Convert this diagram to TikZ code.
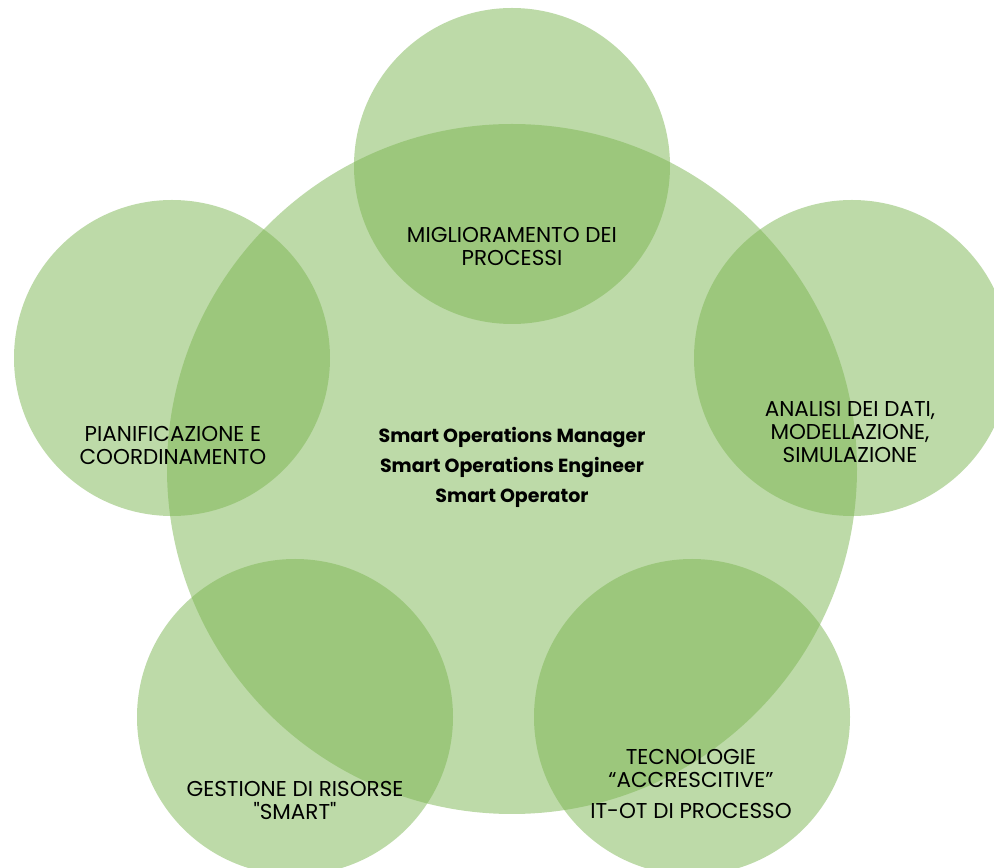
\documentclass[tikz,border=0pt]{standalone}
\usepackage{fontspec}
\setmainfont{Poppins}
\definecolor{ringgreen}{RGB}{123,181,81}
\begin{document}
\begin{tikzpicture}[x=1pt,y=1pt,
  bubble/.style={circle,draw=none,fill=ringgreen,fill opacity=0.5,inner sep=0pt},
  small/.style={bubble,minimum size=316pt},
  big/.style={bubble,minimum size=690pt},
  lbl/.style={align=center,font=\fontsize{21.5}{23}\selectfont,text=black,inner sep=0pt},
  ctr/.style={align=center,font=\fontsize{19}{30}\selectfont\bfseries,text=black,inner sep=0pt}]
\useasboundingbox (0,0) rectangle (994,868);
\clip (0,0) rectangle (994,868);
\node[big] (core) at (512,399) {};
\node[small] (top) at (512,702) {};
\node[small] (left) at (172,510) {};
\node[small] (right) at (852,510) {};
\node[small] (bl) at (295,151) {};
\node[small] (br) at (692,151) {};
\node[ctr] (coretxt) at (512,401) {Smart Operations Manager\\Smart Operations Engineer\\Smart Operator};
\node[lbl] (toptxt) at (512,621) {MIGLIORAMENTO DEI\\PROCESSI};
\node[lbl] (lefttxt) at (173,423) {PIANIFICAZIONE E\\COORDINAMENTO};
\node[lbl] (righttxt) at (850,436) {ANALISI DEI DATI,\\MODELLAZIONE,\\SIMULAZIONE};
\node[lbl] (bltxt) at (295,68) {GESTIONE DI RISORSE\\\textquotedbl SMART\textquotedbl};
\node[lbl] (brtxt) at (691,84) {TECNOLOGIE\\“ACCRESCITIVE”\\[8pt]IT-OT DI PROCESSO};
\end{tikzpicture}
\end{document}
